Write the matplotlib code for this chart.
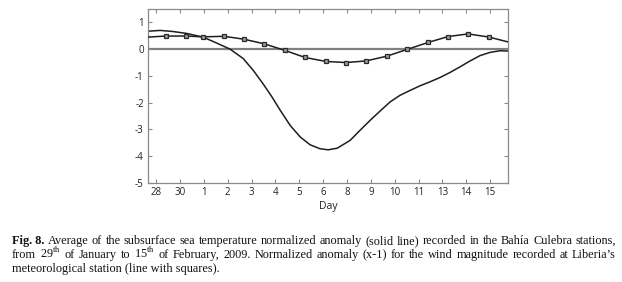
import matplotlib
matplotlib.use('Agg')
from matplotlib import pyplot as plt

plt.rcParams['axes.unicode_minus'] = False
plt.rcParams['mathtext.fontset'] = 'custom'
plt.rcParams['mathtext.rm'] = 'Liberation Serif'

# day labels on the x axis (one tick per position)
day_labels = ['28', '30', '1', '2', '3', '4', '5', '6', '8', '9', '10', '11', '13', '14', '15']

# subsurface sea temperature normalized anomaly (solid line)
temp_x = [-0.34, 0.17, 0.7, 1.26, 1.97, 2.56, 3.10, 3.65, 4.07, 4.48, 4.86, 5.20, 5.62, 6.04,
          6.45, 6.87, 7.21, 7.59, 8.13, 8.55, 8.97, 9.39, 9.81, 10.23, 10.65, 11.06, 11.48,
          11.90, 12.32, 12.74, 13.16, 13.58, 14.0, 14.42, 14.75]
temp_y = [0.67, 0.70, 0.66, 0.59, 0.45, 0.22, 0.0, -0.35, -0.79, -1.29, -1.79, -2.28, -2.85, -3.28,
          -3.57, -3.72, -3.76, -3.70, -3.41, -3.03, -2.66, -2.31, -1.97, -1.72, -1.54, -1.37, -1.22,
          -1.06, -0.87, -0.66, -0.44, -0.24, -0.12, -0.06, -0.07]

# wind magnitude normalized anomaly (x-1), line with squares
wind_x = [-0.34, 0.42, 1.26, 1.97, 2.85, 3.69, 4.53, 5.41, 6.24, 7.12, 7.96, 8.80, 9.68,
          10.52, 11.40, 12.24, 13.08, 13.96, 14.75]
wind_y = [0.45, 0.49, 0.49, 0.46, 0.48, 0.37, 0.20, -0.05, -0.31, -0.46, -0.50, -0.44, -0.26,
          -0.01, 0.25, 0.47, 0.57, 0.45, 0.27]

caption_1 = 'Average of the subsurface sea temperature normalized anomaly (solid line) recorded in the Bahía Culebra stations,'
caption_2 = 'from 29$^{\\mathrm{th}}$ of January to 15$^{\\mathrm{th}}$ of February, 2009. Normalized anomaly (x-1) for the wind magnitude recorded at Liberia\u2019s'
caption_3 = 'meteorological station (line with squares).'

W, H = 622, 282
fig = plt.figure(figsize=(W / 100, H / 100), dpi=100)
ax = fig.add_axes([148 / W, 1 - 183 / H, 360 / W, 174 / H])

ax.axhline(0, color='#808080', lw=1.6, zorder=1)
ax.plot(temp_x, temp_y, color='#1e1e1e', lw=1.1, zorder=2)
ax.plot(wind_x, wind_y, color='#1e1e1e', lw=1.1, marker='s', markersize=3.1,
        markerfacecolor='#9a9a9a', markeredgecolor='#2a2a2a', markeredgewidth=0.9,
        markevery=list(range(1, len(wind_x) - 1)), zorder=3)

ax.set_xlim(-0.34, 14.75)
ax.set_ylim(-5, 1.5)
ax.set_xticks(range(len(day_labels)))
ax.set_xticklabels(day_labels)
ax.set_yticks([1, 0, -1, -2, -3, -4, -5])
ax.set_yticklabels(['1', '0', '-1', '-2', '-3', '-4', '-5'])
for s in ax.spines.values():
    s.set_color('#8a8a8a')
    s.set_linewidth(0.9)
ax.tick_params(direction='in', length=3, width=0.8, color='#8a8a8a',
               top=True, right=True, labelsize=7, pad=3, labelcolor='#222222')
for lab in ax.get_xticklabels() + ax.get_yticklabels():
    lab.set_family('Open Sans')
ax.set_xlabel('Day', fontsize=7.5, family='Open Sans', color='#222222', labelpad=2)

# caption: pick the font size so line 1 fills the width, then justify
fig.canvas.draw()
renderer = fig.canvas.get_renderer()
left, right = 12, 616
probe = fig.text(0, 0, 'Fig. 8. ' + caption_1, fontsize=10, family='Liberation Serif')
natural = probe.get_window_extent(renderer).width
probe.remove()
fs = 10 * (right - left) / natural * 0.985

cap_lines = [
    [('Fig. 8.', 'bold')] + [(w, 'normal') for w in caption_1.split()],
    [(w, 'normal') for w in caption_2.split()],
]
ys = [244, 258, 272]
for i, words in enumerate(cap_lines):
    texts = []
    for w, wt in words:
        t = fig.text(0, 1 - ys[i] / H, w, fontsize=fs, family='Liberation Serif',
                     weight=wt, va='baseline', ha='left', color='#111111')
        texts.append(t)
    widths = [t.get_window_extent(renderer).width for t in texts]
    gap = (right - left - sum(widths)) / (len(words) - 1)
    x = left
    for t, wd in zip(texts, widths):
        t.set_x(x / W)
        x += wd + gap
fig.text(left / W, 1 - ys[2] / H, caption_3, fontsize=fs, family='Liberation Serif',
         va='baseline', ha='left', color='#111111')

fig.savefig('out.png', dpi=100)
